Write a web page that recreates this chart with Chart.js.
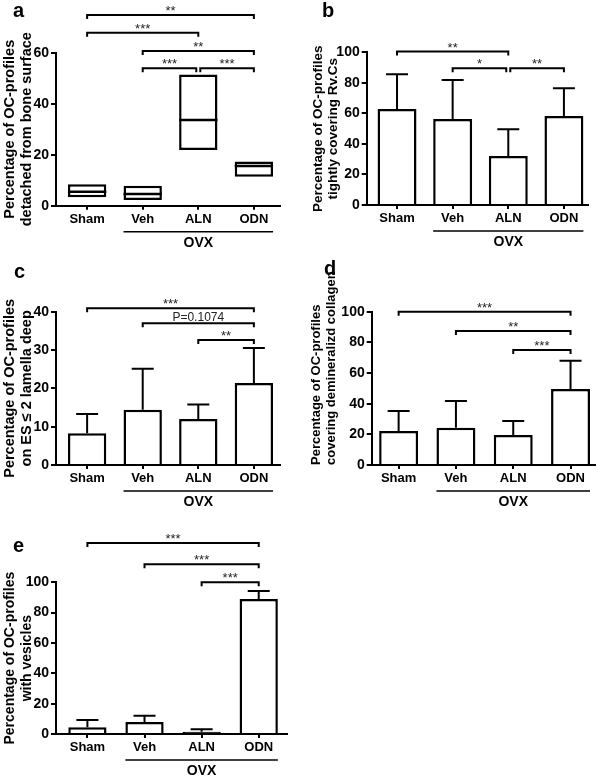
<!DOCTYPE html>
<html>
<head>
<meta charset="utf-8">
<script src="https://cdn.jsdelivr.net/npm/chart.js@4.4.1/dist/chart.umd.min.js"></script>
<style>
  html, body { margin: 0; padding: 0; background: #fff; }
  #fig { position: relative; width: 600px; height: 777px; overflow: hidden; background: #fff; }
  #fig canvas { position: absolute; }
</style>
</head>
<body>
<div id="fig">
  <canvas id="pa" width="300" height="260" style="left:0;top:0"></canvas>
  <canvas id="pb" width="300" height="260" style="left:300px;top:0"></canvas>
  <canvas id="pc" width="300" height="250" style="left:0;top:260px"></canvas>
  <canvas id="pd" width="300" height="250" style="left:300px;top:260px"></canvas>
  <canvas id="pe" width="300" height="267" style="left:0;top:510px"></canvas>
</div>
<script>
const categories = ['Sham', 'Veh', 'ALN', 'ODN'];
const groupLabel = 'OVX';

// a: OC-profiles detached from bone surface (box = min..max, line = median)
const aLow = [3.3, 2.2, 21.8, 11.4];
const aHigh = [8.4, 7.8, 51.5, 17.3];
const aMedian = [5.5, 4.6, 33.6, 15.6];
const aTicks = [0, 20, 40, 60];

// b: tightly covering Rv.Cs (mean + SD)
const bMean = [62.9, 56.3, 32.1, 58.3];
const bSd = [22.7, 25.6, 17.5, 18.1];
const bTicks = [0, 20, 40, 60, 80, 100];

// c: on ES <= 2 lamella deep
const cMean = [8.3, 14.4, 12.0, 21.4];
const cSd = [5.0, 10.7, 3.8, 9.1];
const cTicks = [0, 10, 20, 30, 40];

// d: covering demineralized collagen
const dMean = [22.2, 24.3, 19.6, 49.6];
const dSd = [13.0, 17.4, 9.1, 18.4];
const dTicks = [0, 20, 40, 60, 80, 100];

// e: with vesicles
const eMean = [4.4, 7.9, 1.5, 89.0];
const eSd = [4.8, 4.1, 1.6, 5.3];
const eTicks = [0, 20, 40, 60, 80, 100];

// significance brackets: [from, to, label, level on the y scale]
const aSig = [[0, 3, '**', 74.8], [0, 2, '***', 67.8], [1, 3, '**', 60.7], [1, 2, '***', 53.9], [2, 3, '***', 53.9]];
const bSig = [[0, 2, '**', 100.5], [1, 2, '*', 89.5], [2, 3, '**', 89.5]];
const cSig = [[0, 3, '***', 40.9], [1, 3, 'P=0.1074', 37.0], [2, 3, '**', 32.6]];
const dSig = [[0, 3, '***', 100], [1, 3, '**', 87.4], [2, 3, '***', 75]];
const eSig = [[0, 3, '***', 125.9], [1, 3, '***', 111.9], [2, 3, '***', 100]];

const FONT = "Arial, 'Liberation Sans', Helvetica, sans-serif";
Chart.defaults.font.family = FONT;
Chart.defaults.color = '#000';

function makePlugin(p) {
  return {
    id: 'extras_' + p.letter,
    afterDatasetsDraw(chart) {
      const ctx = chart.ctx;
      const xs = chart.scales.x, ys = chart.scales.y;
      const bars = chart.getDatasetMeta(0).data;
      const area = chart.chartArea;
      ctx.save();
      ctx.strokeStyle = '#000';
      ctx.fillStyle = '#000';

      // error bars (upper only)
      if (p.sd) {
        ctx.lineWidth = 2;
        bars.forEach((bar, i) => {
          const top = ys.getPixelForValue(p.mean[i] + p.sd[i]);
          const base = ys.getPixelForValue(p.mean[i]);
          ctx.beginPath();
          ctx.moveTo(bar.x, base);
          ctx.lineTo(bar.x, top);
          ctx.moveTo(bar.x - 11, top);
          ctx.lineTo(bar.x + 11, top);
          ctx.stroke();
        });
      }

      // median line inside floating boxes
      if (p.median) {
        ctx.lineWidth = 2.5;
        bars.forEach((bar, i) => {
          const yy = ys.getPixelForValue(p.median[i]);
          ctx.beginPath();
          ctx.moveTo(bar.x - bar.width / 2, yy);
          ctx.lineTo(bar.x + bar.width / 2, yy);
          ctx.stroke();
        });
      }

      // significance brackets
      p.sig.forEach(([i, j, label, level]) => {
        const meetsLeft = p.sig.some(s => s[3] === level && s[1] === i);
        const meetsRight = p.sig.some(s => s[3] === level && s[0] === j);
        const x1 = xs.getPixelForValue(i) + (meetsLeft ? 2 : 0);
        const x2 = xs.getPixelForValue(j) - (meetsRight ? 2 : 0);
        const yy = ys.getPixelForValue(level);
        ctx.lineWidth = 2;
        ctx.beginPath();
        ctx.moveTo(x1, yy + 4);
        ctx.lineTo(x1, yy);
        ctx.lineTo(x2, yy);
        ctx.lineTo(x2, yy + 4);
        ctx.stroke();
        const star = label.indexOf('*') === 0;
        ctx.font = (star ? '13px ' : '12px ') + FONT;
        ctx.fillStyle = '#222';
        ctx.textAlign = 'center';
        ctx.textBaseline = 'alphabetic';
        ctx.fillText(label, (x1 + x2) / 2, yy - (star ? 0 : 2));
      });

      // OVX group line and label
      const b1 = bars[1], b3 = bars[3];
      const lx1 = b1.x - b1.width / 2, lx2 = b3.x + b3.width / 2;
      ctx.lineWidth = 1.5;
      ctx.beginPath();
      ctx.moveTo(lx1, area.bottom + 26);
      ctx.lineTo(lx2, area.bottom + 26);
      ctx.stroke();
      ctx.fillStyle = '#000';
      ctx.font = 'bold 14px ' + FONT;
      ctx.textAlign = 'center';
      ctx.textBaseline = 'middle';
      ctx.fillText(groupLabel, (lx1 + lx2) / 2, area.bottom + 37);

      // panel letter
      ctx.font = 'bold 20px ' + FONT;
      ctx.textAlign = 'left';
      ctx.textBaseline = 'alphabetic';
      ctx.fillText(p.letter, p.letterPos[0], p.letterPos[1]);
      ctx.restore();
    }
  };
}

// bars only a couple of pixels tall render as a solid outline block
function barFill(c) {
  const ys = c.chart.scales.y;
  if (!ys || !c.parsed || Array.isArray(c.raw.y)) return '#fff';
  const h = ys.getPixelForValue(0) - ys.getPixelForValue(c.parsed.y);
  return h < 5 ? '#000' : '#fff';
}

function makePanel(p) {
  const canvas = document.getElementById(p.canvas);
  const W = canvas.width, H = canvas.height;
  const data = categories.map((c, i) =>
    ({ x: i, y: p.low ? [p.low[i], p.high[i]] : p.mean[i] }));
  new Chart(canvas, {
    type: 'bar',
    data: {
      datasets: [{
        data: data,
        backgroundColor: barFill,
        borderColor: '#000',
        borderWidth: 2.5,
        borderSkipped: p.low ? false : 'start',
        barPercentage: p.barPct,
        categoryPercentage: 1
      }]
    },
    options: {
      responsive: false,
      animation: false,
      events: [],
      layout: { padding: { left: 0, top: p.area.t, right: W - p.area.r, bottom: 0 } },
      plugins: { legend: { display: false }, tooltip: { enabled: false } },
      scales: {
        x: {
          type: 'linear',
          min: p.xMin,
          max: p.xMax,
          offset: false,
          afterBuildTicks: s => { s.ticks = categories.map((c, i) => ({ value: i })); },
          afterFit: s => { s.height = H - p.area.b; },
          ticks: {
            autoSkip: false, maxRotation: 0, minRotation: 0, padding: 2,
            font: { size: 13, weight: 'bold' },
            color: '#000',
            callback: v => categories[v]
          },
          grid: { display: true, drawOnChartArea: false, drawTicks: true, tickLength: 4, offset: false, color: '#000', lineWidth: 2 },
          border: { display: true, color: '#000', width: 2 }
        },
        y: {
          min: 0,
          max: p.ticks[p.ticks.length - 1],
          afterBuildTicks: s => { s.ticks = p.ticks.map(v => ({ value: v })); },
          afterFit: s => { s.width = p.area.l; },
          ticks: { padding: 2, font: { size: 14, weight: 'bold' }, color: '#000' },
          grid: { display: true, drawOnChartArea: false, drawTicks: true, tickLength: 5, color: '#000', lineWidth: 2 },
          border: { display: true, color: '#000', width: 2 },
          title: {
            display: true,
            text: p.title,
            align: p.titleAlign,
            color: '#000',
            font: { size: p.titleSize, weight: 'bold', lineHeight: p.titleLH },
            padding: { top: p.titlePad, bottom: 0 }
          }
        }
      }
    },
    plugins: [makePlugin(p)]
  });
}

makePanel({
  canvas: 'pa', letter: 'a', letterPos: [13, 17],
  low: aLow, high: aHigh, median: aMedian, ticks: aTicks, sig: aSig,
  area: { l: 56, t: 52.7, r: 280, b: 205.7 }, xMin: -0.56, xMax: 3.47, barPct: 0.69,
  title: ['Percentage of OC-profiles', 'detached from bone surface'],
  titleAlign: 'center', titleSize: 14.5, titleLH: 1.17, titlePad: 1.6
});
makePanel({
  canvas: 'pb', letter: 'b', letterPos: [22, 17],
  mean: bMean, sd: bSd, ticks: bTicks, sig: bSig,
  area: { l: 66.7, t: 52.3, r: 288.4, b: 205 }, xMin: -0.545, xMax: 3.44, barPct: 0.7,
  title: ['Percentage of OC-profiles', 'tightly covering Rv.Cs'],
  titleAlign: 'center', titleSize: 13.5, titleLH: 1.12, titlePad: 10.7
});
makePanel({
  canvas: 'pc', letter: 'c', letterPos: [14, 18],
  mean: cMean, sd: cSd, ticks: cTicks, sig: cSig,
  area: { l: 56, t: 51.7, r: 280, b: 205 }, xMin: -0.56, xMax: 3.47, barPct: 0.69,
  title: ['Percentage of OC-profiles', 'on ES \u2264 2 lamella deep'],
  titleAlign: 'center', titleSize: 14.5, titleLH: 1.17, titlePad: 1.6
});
makePanel({
  canvas: 'pd', letter: 'd', letterPos: [24, 15],
  mean: dMean, sd: dSd, ticks: dTicks, sig: dSig,
  area: { l: 71.7, t: 51.7, r: 294.6, b: 205 }, xMin: -0.47, xMax: 3.42, barPct: 0.68,
  title: ['Percentage of OC-profiles', 'covering demineralizd collagen'],
  titleAlign: 'start', titleSize: 13, titleLH: 1.15, titlePad: 9.1
});
makePanel({
  canvas: 'pe', letter: 'e', letterPos: [13, 42],
  mean: eMean, sd: eSd, ticks: eTicks, sig: eSig,
  area: { l: 56, t: 72.3, r: 286.7, b: 224 }, xMin: -0.55, xMax: 3.49, barPct: 0.67,
  title: ['Percentage of OC-profiles', 'with vesicles'],
  titleAlign: 'center', titleSize: 14, titleLH: 1.2, titlePad: 1.6
});
</script>
</body>
</html>
